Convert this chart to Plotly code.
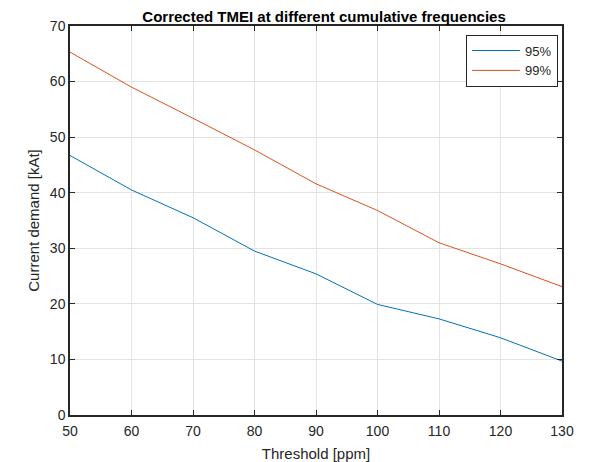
import plotly.graph_objects as go

thresholds = [50, 60, 70, 80, 90, 100, 110, 120, 130]
demand_95 = [46.7, 40.5, 35.5, 29.5, 25.4, 19.9, 17.3, 13.9, 9.7]
demand_99 = [65.3, 59.0, 53.4, 47.7, 41.6, 36.8, 31.0, 27.2, 23.1]

font_family = "Liberation Sans, Arial, sans-serif"

fig = go.Figure()
fig.add_trace(go.Scatter(x=thresholds, y=demand_95, mode='lines', name='95%',
                         line=dict(color='#0072BD', width=1)))
fig.add_trace(go.Scatter(x=thresholds, y=demand_99, mode='lines', name='99%',
                         line=dict(color='#D95319', width=1)))

axis_style = dict(
    showline=True, linecolor='#262626', linewidth=1.5, mirror='allticks',
    ticks='inside', ticklen=5, tickcolor='#262626', tickwidth=1,
    showgrid=True, gridcolor='#e3e3e3', gridwidth=1, zeroline=False,
    automargin=False,
    tickfont=dict(family=font_family, size=14, color='#262626'),
)

# page has an 8px body margin, so the figure is sized to fit inside it
fig.update_layout(
    width=582, height=454,
    margin=dict(l=62, r=28, t=18, b=47),
    paper_bgcolor='white', plot_bgcolor='white',
    title=dict(text='<b>Corrected TMEI at different cumulative frequencies</b>',
               font=dict(family=font_family, size=15, color='black'),
               x=0.543, xanchor='center', y=0.992, yanchor='top', pad=dict(t=0, b=0)),
    xaxis=dict(range=[50, 130], tickvals=thresholds, ticklabelstandoff=2,
               title=dict(text='Threshold [ppm]', standoff=11,
                          font=dict(family=font_family, size=15, color='#262626')),
               **axis_style),
    yaxis=dict(range=[0, 70], dtick=10,
               title=dict(text='Current demand [kAt]', standoff=7,
                          font=dict(family=font_family, size=15, color='#262626')),
               **axis_style),
    legend=dict(x=0.992, y=0.978, xanchor='right', yanchor='top',
                bgcolor='white', bordercolor='#262626', borderwidth=1,
                font=dict(family=font_family, size=13, color='#262626'),
                itemwidth=48, tracegroupgap=0),
    showlegend=True,
)

fig.write_html("out.html")
